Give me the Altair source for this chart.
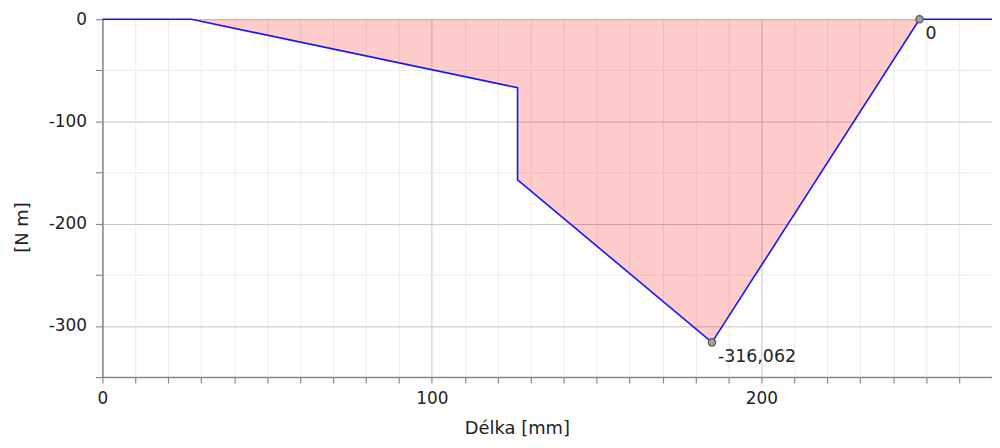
import altair as alt
import pandas as pd

# Bending moment diagram data
x_mm = [0, 27, 126, 126, 185, 248, 270]
m_nm = [0, 0, -67, -157, -316.062, 0, 0]

mark_x = [185, 248]
mark_y = [-316.062, 0]
mark_labels = ["-316,062", "0"]

x_ticks = list(range(0, 271, 10))
y_ticks = list(range(-350, 1, 50))

df = pd.DataFrame({"x": x_mm, "m": m_nm, "zero": [0] * len(x_mm), "order": list(range(len(x_mm)))})
pts = pd.DataFrame({"x": mark_x, "m": mark_y, "label": mark_labels})

FONT = "DejaVu Sans"


def grid_cond():
    return {"condition": {"test": "datum.value % 100 === 0", "value": "#c6c6c6"}, "value": "#ebebeb"}


xscale = alt.Scale(domain=[0, 270], nice=False, zero=False)
yscale = alt.Scale(domain=[-350, 0], nice=False)

xaxis = alt.Axis(
    values=x_ticks, tickCount=40, tickSize=6, labelPadding=8, labelFlush=False,
    labelExpr="datum.value % 100 === 0 ? toString(datum.value) : ''",
    title="Délka [mm]",
    gridColor=grid_cond(),
    titleX=417, titleY=57, titleBaseline="alphabetic",
    titleFontWeight="normal",
)
yaxis = alt.Axis(
    values=y_ticks, tickCount=20, tickSize=7, labelPadding=9, labelFlush=False,
    labelExpr="datum.value % 100 === 0 ? toString(datum.value) : ''",
    title="[N m]",
    gridColor=grid_cond(),
    titleX=-80, titleY=209, titleBaseline="middle",
    titleFontWeight="normal",
)

X = alt.X("x:Q", scale=xscale, axis=xaxis)
Y = alt.Y("m:Q", scale=yscale, axis=yaxis)

base = alt.Chart(df)

area = base.mark_area(fill="#ff0000", fillOpacity=0.2, stroke=None).encode(
    x=X, y=Y, y2=alt.Y2("zero:Q"),
)
line = base.mark_line(color="#1414ff", strokeWidth=1.6).encode(
    x=X, y=Y, order="order:Q",
)
points = alt.Chart(pts).mark_point(
    filled=True, fill="#a0a0a0", stroke="#555555", strokeWidth=1.2, size=55, opacity=1, shape="circle"
).encode(x=X, y=Y)
labels = alt.Chart(pts).mark_text(
    align="left", baseline="top", dx=6, dy=6, font=FONT, fontSize=17.5, color="#222222"
).encode(x=X, y=Y, text="label:N")

chart = alt.layer(area, line, points, labels).properties(
    width=895, height=360,
    padding={"left": 95, "top": 10, "right": 0, "bottom": 62},
    autosize="none",
).configure_view(stroke=None).configure_axis(
    labelFont=FONT, titleFont=FONT, labelFontSize=17, titleFontSize=18,
    labelColor="#222222", titleColor="#222222",
    domainColor="#888888", domainWidth=1.5, tickColor="#888888", tickWidth=1.2,
    gridWidth=1,
)

chart.save("out.html", embed_options={"renderer": "svg", "actions": False})
